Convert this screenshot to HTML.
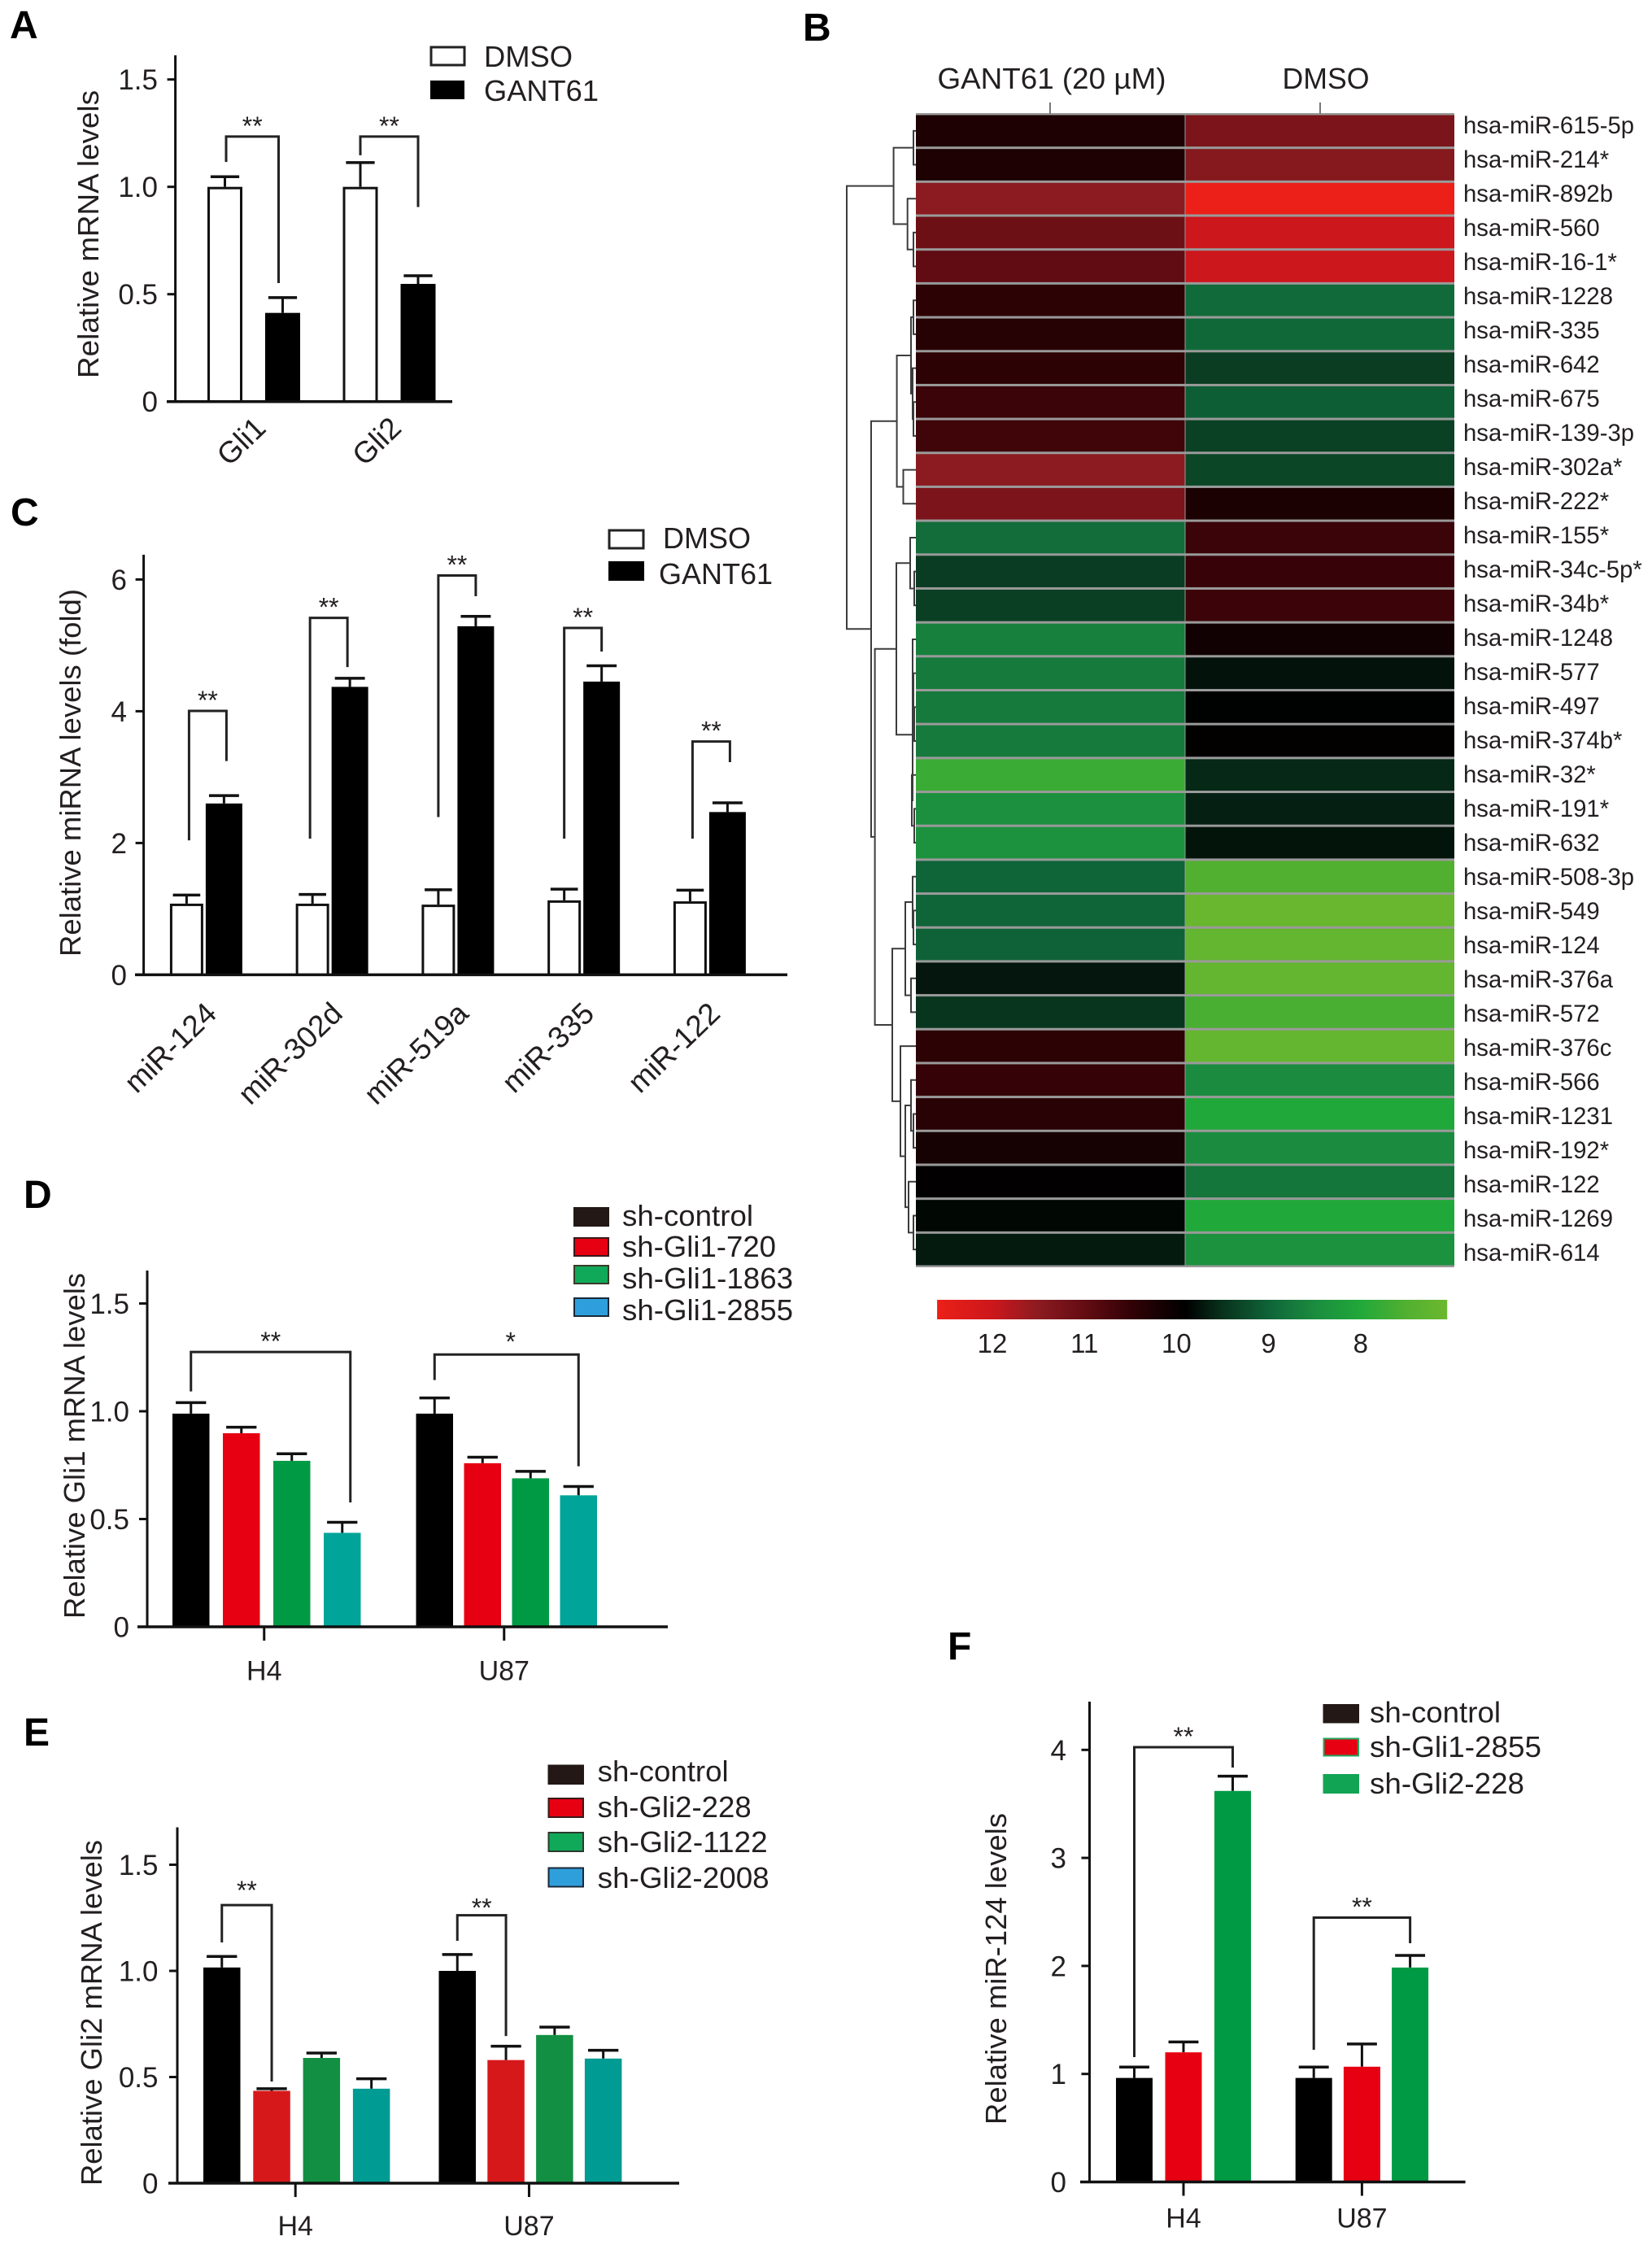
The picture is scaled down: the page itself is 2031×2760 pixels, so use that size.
<!DOCTYPE html>
<html lang="en">
<head>
<meta charset="utf-8">
<title>GANT61 and Gli knockdown: mRNA and miRNA levels</title>
<style>
html,body{margin:0;padding:0;background:#fff;}
svg{display:block;}
text{font-family:"Liberation Sans",sans-serif;fill:#231f20;}
.letter{font-size:48px;font-weight:bold;fill:#000;}
.legend-text{font-size:36px;}
.title{font-size:36px;}
</style>
</head>
<body>
<svg id="figure" xmlns="http://www.w3.org/2000/svg" width="2031" height="2760" viewBox="0 0 2031 2760">
  <rect x="0" y="0" width="2031" height="2760" fill="#ffffff"/>
  <defs id="defs"></defs>

  <text class="letter" x="12" y="47">A</text>
  <text class="letter" x="987" y="50">B</text>
  <text class="letter" x="13" y="646">C</text>
  <text class="letter" x="29" y="1485">D</text>
  <text class="letter" x="29" y="2146">E</text>
  <text class="letter" x="1165" y="2040">F</text>

  <text class="title" text-anchor="middle" textLength="354" lengthAdjust="spacingAndGlyphs" transform="translate(121 288) rotate(-90)">Relative mRNA levels</text>
  <text class="title" text-anchor="middle" textLength="452" lengthAdjust="spacingAndGlyphs" transform="translate(99 950) rotate(-90)">Relative miRNA levels (fold)</text>
  <text class="title" text-anchor="middle" textLength="425" lengthAdjust="spacingAndGlyphs" transform="translate(104 1777.5) rotate(-90)">Relative Gli1 mRNA levels</text>
  <text class="title" text-anchor="middle" textLength="425" lengthAdjust="spacingAndGlyphs" transform="translate(125 2474.5) rotate(-90)">Relative Gli2 mRNA levels</text>
  <text class="title" text-anchor="middle" textLength="383" lengthAdjust="spacingAndGlyphs" transform="translate(1237 2420.5) rotate(-90)">Relative miR-124 levels</text>

  <g>
    <rect x="530" y="58" width="41" height="22" fill="#fff" stroke="#222" stroke-width="3"/>
    <text class="legend-text" x="595" y="82" textLength="109" lengthAdjust="spacingAndGlyphs">DMSO</text>
    <rect x="529" y="99" width="42" height="23" fill="#000"/>
    <text class="legend-text" x="595" y="124" textLength="141" lengthAdjust="spacingAndGlyphs">GANT61</text>
  </g>
  <g>
    <rect x="749" y="652" width="42" height="22" fill="#fff" stroke="#222" stroke-width="3"/>
    <text class="legend-text" x="815" y="674">DMSO</text>
    <rect x="748" y="690" width="44" height="24" fill="#000"/>
    <text class="legend-text" x="810" y="718">GANT61</text>
  </g>
  <g>
    <rect x="705" y="1484" width="44" height="24" fill="#231815"/>
    <text class="legend-text" x="765" y="1507" textLength="161" lengthAdjust="spacingAndGlyphs">sh-control</text>
    <rect x="706" y="1522" width="42" height="22" fill="#e60012" stroke="#3a1a1a" stroke-width="2"/>
    <text class="legend-text" x="765" y="1545" textLength="189" lengthAdjust="spacingAndGlyphs">sh-Gli1-720</text>
    <rect x="706" y="1556" width="42" height="22" fill="#10a95a" stroke="#3a3a2a" stroke-width="2"/>
    <text class="legend-text" x="765" y="1584" textLength="210" lengthAdjust="spacingAndGlyphs">sh-Gli1-1863</text>
    <rect x="706" y="1596" width="42" height="22" fill="#2f9fdc" stroke="#1a2a3a" stroke-width="2"/>
    <text class="legend-text" x="765" y="1623" textLength="210" lengthAdjust="spacingAndGlyphs">sh-Gli1-2855</text>
  </g>
  <g>
    <rect x="673.5" y="2169.5" width="44.5" height="24.5" fill="#231815"/>
    <text class="legend-text" x="734.7" y="2190" textLength="161" lengthAdjust="spacingAndGlyphs">sh-control</text>
    <rect x="674.5" y="2211" width="42.5" height="23" fill="#e60012" stroke="#3a1a1a" stroke-width="2"/>
    <text class="legend-text" x="734.7" y="2234" textLength="189" lengthAdjust="spacingAndGlyphs">sh-Gli2-228</text>
    <rect x="674.5" y="2253" width="42.5" height="23" fill="#10a95a" stroke="#2a3a2a" stroke-width="2"/>
    <text class="legend-text" x="734.7" y="2277" textLength="209" lengthAdjust="spacingAndGlyphs">sh-Gli2-1122</text>
    <rect x="674.5" y="2296.5" width="42.5" height="23" fill="#2f9fdc" stroke="#1a2a3a" stroke-width="2"/>
    <text class="legend-text" x="734.7" y="2321" textLength="211" lengthAdjust="spacingAndGlyphs">sh-Gli2-2008</text>
  </g>
  <g>
    <rect x="1626.5" y="2095" width="44.5" height="23.5" fill="#231815"/>
    <text class="legend-text" x="1684" y="2117.5" textLength="161" lengthAdjust="spacingAndGlyphs">sh-control</text>
    <rect x="1627.5" y="2137.5" width="42.5" height="21" fill="#e60012" stroke="#22a860" stroke-width="2"/>
    <text class="legend-text" x="1684" y="2160" textLength="211" lengthAdjust="spacingAndGlyphs">sh-Gli1-2855</text>
    <rect x="1626.5" y="2181" width="44.5" height="24" fill="#12a455"/>
    <text class="legend-text" x="1684" y="2205" textLength="190" lengthAdjust="spacingAndGlyphs">sh-Gli2-228</text>
  </g>

  <g>
    <text class="title" x="1293" y="109" text-anchor="middle" textLength="281" lengthAdjust="spacingAndGlyphs">GANT61 (20 µM)</text>
    <text class="title" x="1630" y="109" text-anchor="middle" textLength="107" lengthAdjust="spacingAndGlyphs">DMSO</text>
  </g>
  <g id="charts"></g>
</svg>

<script>
/* Panel A */
const aCategories = ['Gli1', 'Gli2'];
const aDmso = [1.0, 1.0];
const aDmsoErr = [0.047, 0.113];
const aGant61 = [0.413, 0.548];
const aGant61Err = [0.071, 0.038];
const aTicks = [0, 0.5, 1, 1.5];
const aTickLabels = ['0', '0.5', '1.0', '1.5'];

/* Panel C */
const cCategories = ['miR-124', 'miR-302d', 'miR-519a', 'miR-335', 'miR-122'];
const cDmso = [1.08, 1.08, 1.065, 1.13, 1.115];
const cDmsoErr = [0.13, 0.14, 0.225, 0.17, 0.17];
const cGant61 = [2.6, 4.37, 5.29, 4.45, 2.47];
const cGant61Err = [0.12, 0.13, 0.15, 0.24, 0.14];
const cTicks = [0, 2, 4, 6];
const cTickLabels = ['0', '2', '4', '6'];

/* Panel D */
const dCategories = ['H4', 'U87'];
const dControl = [0.989, 0.989];
const dControlErr = [0.051, 0.073];
const dGli1720 = [0.898, 0.759];
const dGli1720Err = [0.028, 0.028];
const dGli11863 = [0.77, 0.689];
const dGli11863Err = [0.033, 0.032];
const dGli12855 = [0.436, 0.61];
const dGli12855Err = [0.049, 0.041];
const dTicks = [0, 0.5, 1, 1.5];
const dTickLabels = ['0', '0.5', '1.0', '1.5'];

/* Panel E */
const eCategories = ['H4', 'U87'];
const eControl = [1.016, 1.0];
const eControlErr = [0.052, 0.077];
const eGli2228 = [0.435, 0.58];
const eGli2228Err = [0.01, 0.065];
const eGli21122 = [0.59, 0.698];
const eGli21122Err = [0.023, 0.037];
const eGli22008 = [0.445, 0.587];
const eGli22008Err = [0.047, 0.039];
const eTicks = [0, 0.5, 1, 1.5];
const eTickLabels = ['0', '0.5', '1.0', '1.5'];

/* Panel F */
const fCategories = ['H4', 'U87'];
const fControl = [0.963, 0.963];
const fControlErr = [0.101, 0.101];
const fGli12855 = [1.2, 1.067];
const fGli12855Err = [0.096, 0.21];
const fGli2228 = [3.62, 1.985];
const fGli2228Err = [0.137, 0.112];
const fTicks = [0, 1, 2, 3, 4];
const fTickLabels = ['0', '1', '2', '3', '4'];

/* Panel B heatmap */
const heatRows = ['hsa-miR-615-5p','hsa-miR-214*','hsa-miR-892b','hsa-miR-560','hsa-miR-16-1*','hsa-miR-1228','hsa-miR-335','hsa-miR-642','hsa-miR-675','hsa-miR-139-3p','hsa-miR-302a*','hsa-miR-222*','hsa-miR-155*','hsa-miR-34c-5p*','hsa-miR-34b*','hsa-miR-1248','hsa-miR-577','hsa-miR-497','hsa-miR-374b*','hsa-miR-32*','hsa-miR-191*','hsa-miR-632','hsa-miR-508-3p','hsa-miR-549','hsa-miR-124','hsa-miR-376a','hsa-miR-572','hsa-miR-376c','hsa-miR-566','hsa-miR-1231','hsa-miR-192*','hsa-miR-122','hsa-miR-1269','hsa-miR-614'];
const heatGant61 = [10.25,10.25,11.5,11.12,10.97,10.43,10.37,10.43,10.58,10.63,11.5,11.31,8.89,9.4,9.37,8.65,8.72,8.72,8.72,7.75,8.42,8.4,9.0,9.0,9.02,9.72,9.47,10.43,10.53,10.39,10.16,9.92,9.84,9.69];
const heatDmso = [11.3,11.42,12.6,12.0,12.0,8.92,8.95,9.39,9.06,9.36,9.3,10.23,10.58,10.56,10.6,10.12,9.76,9.88,9.94,9.58,9.64,9.74,7.5,7.13,7.2,7.2,7.59,7.2,8.5,8.0,8.5,8.78,8.0,8.4];
const heatColumns = ['GANT61', 'DMSO'];
const colorbarTicks = [12, 11, 10, 9, 8];
const colorbarTickLabels = ['12', '11', '10', '9', '8'];
const colorStopValues = [12.6, 12, 11.5, 11, 10.5, 9.9, 9.5, 9, 8.5, 8, 7.5, 7.06];
const colorStopRgb = [[236,32,24],[204,23,28],[139,27,32],[100,12,19],[50,2,6],[0,0,0],[8,50,28],[15,100,56],[27,140,63],[33,168,58],[82,176,48],[108,184,46]];
/* each node: [merge distance, left child, right child]; a bare number is a row index */
const dendrogramTree = [85,
  [27.4, [3, 0, 1], [10.3, 2, [3, 3, 4]]],
  [55,
    [23.4, [6, [3, 5, 6], [4, 7, [3, 8, 9]]], [15.5, 10, 11]],
    [50.4,
      [24, [7, 12, [2, 13, 14]], [4, [4, 15, [3, 16, [2, 17, 18]]], [5, 19, [2, 20, 21]]]],
      [29,
        [13, [4, 22, [3, 23, 24]], [6, 25, 26]],
        [19, 27, [13, [6, 28, [3, 29, 30]], [9, 31, [3, 32, 33]]]]
      ]
    ]
  ]
];

const SVG_NS = 'http://www.w3.org/2000/svg';
const layer = document.getElementById('charts');
const INK = '#111';

function mk(parent, tag, attrs, text) {
  const el = document.createElementNS(SVG_NS, tag);
  for (const k in attrs) el.setAttribute(k, attrs[k]);
  if (text !== undefined) el.textContent = text;
  parent.appendChild(el);
  return el;
}
function line(parent, x1, y1, x2, y2, width, color) {
  return mk(parent, 'line', {x1: x1, y1: y1, x2: x2, y2: y2, stroke: color || INK, 'stroke-width': width});
}

function drawBarChart(c) {
  const g = mk(layer, 'g', {});
  
  
  const yScale = v => c.y0 - v * c.unit;
  const barLeft = (cat, s) => c.groupStart + cat * c.groupStep + s * c.barSteps[cat];
  const seriesWidth = s => c.series[s].width || c.barWidth;
  const barCenter = (cat, s) => barLeft(cat, s) + seriesWidth(s) / 2;
  const groupCenter = cat => (barLeft(cat, 0) + barLeft(cat, c.series.length - 1) + seriesWidth(c.series.length - 1)) / 2;

  c.series.forEach((s, si) => {
    s.values.forEach((v, ci) => {
      const w = seriesWidth(si);
      const x = barLeft(ci, si);
      const top = yScale(v);
      const errTop = yScale(v + s.errors[ci]);
      const cx = x + w / 2;
      const stem = line(g, cx, top, cx, errTop, 3);
      
      
      const cap = line(g, cx - w * 0.41, errTop, cx + w * 0.41, errTop, 3.5);
      
      
      let bar;
      if (s.outline) {
        bar = mk(g, 'rect', {x: x + 1.5, y: top + 1.5, width: w - 3, height: c.y0 - top - 1.5, fill: '#fff', stroke: INK, 'stroke-width': 3});
      } else {
        bar = mk(g, 'rect', {x: x, y: top, width: w, height: c.y0 - top, fill: s.fill});
      }
      
      
    });
  });

  const yAxis = line(g, c.axisX, c.axisTop, c.axisX, c.y0 + 1.5, 3);
  
  
  const xAxis = line(g, c.axisLeft, c.y0, c.axisRight, c.y0, 3.5);
  
  

  c.ticks.forEach((t, i) => {
    const tick = line(g, c.axisX - 10, yScale(t), c.axisX, yScale(t), 3);
    
    
    const label = mk(g, 'text', {x: c.labelRight, y: yScale(t) + 12.5, 'text-anchor': 'end', 'font-size': 35}, c.tickLabels[i]);
    
    
  });

  c.categories.forEach((name, i) => {
    const gc = groupCenter(i);
    if (c.rotated) {
      const label = mk(g, 'text', {'text-anchor': 'end', 'font-size': 37, transform: 'translate(' + (gc + c.rotated.dx) + ' ' + (c.y0 + c.rotated.dy) + ') rotate(' + c.rotated.angle + ')'}, name);
      
      
    } else {
      const tx = gc + (c.catDx || 0);
      const tick = line(g, tx, c.y0, tx, c.y0 + 17, 3);
      
      
      const label = mk(g, 'text', {x: tx, y: c.y0 + c.catLabelDy + 12.5, 'text-anchor': 'middle', 'font-size': 34}, name);
      
      
    }
  });

  c.brackets.forEach(b => {
    const x1 = barCenter(b.group, b.from) + (b.nudgeA || 0);
    const x2 = barCenter(b.group, b.to) + (b.nudgeB || 0);
    const path = mk(g, 'path', {d: 'M' + x1 + ' ' + yScale(b.endA) + 'V' + yScale(b.top) + 'H' + x2 + 'V' + yScale(b.endB), fill: 'none', stroke: '#222', 'stroke-width': 3});
    
    
    const star = mk(g, 'text', {x: (x1 + x2) / 2 + (b.starDx || 0), y: yScale(b.top) - (b.starDy || 20) + 18, 'text-anchor': 'middle', 'font-size': 32}, b.label);
    
    
  });
}

drawBarChart({
  id: 'a', categories: aCategories, ticks: aTicks, tickLabels: aTickLabels,
  y0: 493.7, unit: 264, axisX: 215.6, axisTop: 68, axisLeft: 205, axisRight: 556, labelRight: 194,
  groupStart: 255, groupStep: 166.5, barSteps: [71, 71], barWidth: 43,
  rotated: {dx: 17, dy: 35, angle: -44},
  series: [
    {name: 'dmso', values: aDmso, errors: aDmsoErr, outline: true},
    {name: 'gant61', values: aGant61, errors: aGant61Err, fill: '#000'}
  ],
  brackets: [
    {group: 0, from: 0, to: 1, top: 1.234, endA: 1.116, endB: 0.552, nudgeA: 1.5, nudgeB: -5, label: '**'},
    {group: 1, from: 0, to: 1, top: 1.234, endA: 1.147, endB: 0.906, label: '**'}
  ]
});

drawBarChart({
  id: 'c', categories: cCategories, ticks: cTicks, tickLabels: cTickLabels,
  y0: 1198.4, unit: 81, axisX: 176.6, axisTop: 682, axisLeft: 166, axisRight: 968, labelRight: 156,
  groupStart: 208.9, groupStep: 154.75, barSteps: [44, 44, 44, 44, 44], barWidth: 41,
  rotated: {dx: 15, dy: 50, angle: -44},
  series: [
    {name: 'dmso', values: cDmso, errors: cDmsoErr, outline: true, width: 41},
    {name: 'gant61', values: cGant61, errors: cGant61Err, fill: '#000', width: 45}
  ],
  brackets: [
    {group: 0, from: 0, to: 1, top: 4.005, endA: 2.04, endB: 3.244, nudgeA: 3, nudgeB: 3, label: '**'},
    {group: 1, from: 0, to: 1, top: 5.417, endA: 2.067, endB: 4.67, nudgeA: -3, nudgeB: -3, label: '**'},
    {group: 2, from: 0, to: 1, top: 6.06, endA: 2.394, endB: 5.746, label: '**'},
    {group: 3, from: 0, to: 1, top: 5.264, endA: 2.067, endB: 4.906, label: '**'},
    {group: 4, from: 0, to: 1, top: 3.54, endA: 2.067, endB: 3.227, nudgeA: 3, nudgeB: 3, label: '**'}
  ]
});

drawBarChart({
  id: 'd', categories: dCategories, ticks: dTicks, tickLabels: dTickLabels,
  y0: 2000, unit: 265, axisX: 181, axisTop: 1562, axisLeft: 169, axisRight: 821, labelRight: 159,
  groupStart: 212, groupStep: 299.5, barSteps: [62, 59], barWidth: 45.5, catLabelDy: 53, catDx: -3,
  series: [
    {name: 'sh-control', values: dControl, errors: dControlErr, fill: '#000'},
    {name: 'sh-gli1-720', values: dGli1720, errors: dGli1720Err, fill: '#e60012'},
    {name: 'sh-gli1-1863', values: dGli11863, errors: dGli11863Err, fill: '#009a44'},
    {name: 'sh-gli1-2855', values: dGli12855, errors: dGli12855Err, fill: '#00a499'}
  ],
  brackets: [
    {group: 0, from: 0, to: 3, top: 1.275, endA: 1.092, endB: 0.577, nudgeB: 10, label: '**'},
    {group: 1, from: 0, to: 3, top: 1.263, endA: 1.145, endB: 0.745, starDx: 5, starDy: 23, label: '*'}
  ]
});

drawBarChart({
  id: 'e', categories: eCategories, ticks: eTicks, tickLabels: eTickLabels,
  y0: 2684, unit: 261, axisX: 218, axisTop: 2246.5, axisLeft: 207, axisRight: 835, labelRight: 194.5,
  groupStart: 250, groupStep: 289.5, barSteps: [61.3, 59.8], barWidth: 45.5, catLabelDy: 51.5, catDx: -1.5,
  series: [
    {name: 'sh-control', values: eControl, errors: eControlErr, fill: '#000'},
    {name: 'sh-gli2-228', values: eGli2228, errors: eGli2228Err, fill: '#d7181b'},
    {name: 'sh-gli2-1122', values: eGli21122, errors: eGli21122Err, fill: '#128f42'},
    {name: 'sh-gli2-2008', values: eGli22008, errors: eGli22008Err, fill: '#009b93'}
  ],
  brackets: [
    {group: 0, from: 0, to: 1, top: 1.31, endA: 1.134, endB: 0.479, starDy: 25, label: '**'},
    {group: 1, from: 0, to: 1, top: 1.262, endA: 1.142, endB: 0.693, starDy: 16, label: '**'}
  ]
});

drawBarChart({
  id: 'f', categories: fCategories, ticks: fTicks, tickLabels: fTickLabels,
  y0: 2682.5, unit: 132.8, axisX: 1339.5, axisTop: 2092, axisLeft: 1328, axisRight: 1801.6, labelRight: 1311,
  groupStart: 1372, groupStep: 220.7, barSteps: [60.5, 59.2], barWidth: 45, catLabelDy: 43.5,
  series: [
    {name: 'sh-control', values: fControl, errors: fControlErr, fill: '#000'},
    {name: 'sh-gli1-2855', values: fGli12855, errors: fGli12855Err, fill: '#e60012'},
    {name: 'sh-gli2-228', values: fGli2228, errors: fGli2228Err, fill: '#009a44'}
  ],
  brackets: [
    {group: 0, from: 0, to: 2, top: 4.025, endA: 1.156, endB: 3.837, label: '**'},
    {group: 1, from: 0, to: 2, top: 2.447, endA: 1.224, endB: 2.21, label: '**'}
  ]
});

/* Heatmap */
function heatColor(v) {
  const vals = colorStopValues;
  const rgb = colorStopRgb;
  if (v >= vals[0]) return 'rgb(' + rgb[0].join(',') + ')';
  const last = vals.length - 1;
  if (v <= vals[last]) return 'rgb(' + rgb[last].join(',') + ')';
  for (let i = 0; i < last; i++) {
    if (v <= vals[i] && v >= vals[i + 1]) {
      const t = (vals[i] - v) / (vals[i] - vals[i + 1]);
      const c = rgb[i].map((a, k) => Math.round(a + (rgb[i + 1][k] - a) * t));
      return 'rgb(' + c.join(',') + ')';
    }
  }
  return '#000';
}

(function drawHeatmap() {
  const left = 1126, mid = 1457, right = 1788, top = 140, rowH = 1417 / heatRows.length;
  const g = mk(layer, 'g', {});
  
  

  const backdrop = mk(g, 'rect', {x: left, y: top - 1, width: right - left, height: rowH * heatRows.length + 2, fill: '#9a9a9a'});
  
  

  const columnTickG = line(g, (left + mid) / 2 - 0.5, 126, (left + mid) / 2 - 0.5, 140, 2, '#777');
  
  
  const columnTickD = line(g, (mid + right) / 2 + 0.5, 126, (mid + right) / 2 + 0.5, 140, 2, '#777');
  
  

  const rowY = i => top + i * rowH;
  [heatGant61, heatDmso].forEach((column, ci) => {
    column.forEach((v, ri) => {
      const x = ci === 0 ? left : mid;
      const w = ci === 0 ? mid - left : right - mid;
      const cell = mk(g, 'rect', {x: x + (ci === 0 ? 0 : 0.5), y: rowY(ri) + 1.5, width: w - 0.5, height: rowH - 3, fill: heatColor(v)});
      
      
    });
  });

  heatRows.forEach((name, i) => {
    const label = mk(g, 'text', {x: 1799, y: 154 + i * 42 + 10, 'font-size': 29.3}, name);
    
    
  });

  const dendro = mk(g, 'g', {fill: 'none', stroke: '#3c3c3c', 'stroke-width': 2});
  
  
  function branch(node) {
    if (typeof node === 'number') return {x: left, y: rowY(node) + rowH / 2};
    const a = branch(node[1]);
    const b = branch(node[2]);
    const x = left - node[0];
    const p = mk(dendro, 'path', {d: 'M' + a.x + ' ' + a.y + 'H' + x + 'V' + b.y + 'H' + b.x});
    
    
    return {x: x, y: (a.y + b.y) / 2};
  }
  branch(dendrogramTree);

  /* colour key */
  const barX = v => 1220 + (12 - v) * 113.2;
  const defs = document.getElementById('defs');
  const grad = mk(defs, 'linearGradient', {id: 'color-key-gradient', x1: 0, x2: 1, y1: 0, y2: 0});
  const vHi = colorStopValues[0], vLo = colorStopValues[colorStopValues.length - 1];
  colorStopValues.forEach(v => {
    mk(grad, 'stop', {offset: (vHi - v) / (vHi - vLo), 'stop-color': heatColor(v)});
  });
  const key = mk(g, 'rect', {x: barX(vHi), y: 1598, width: barX(vLo) - barX(vHi), height: 24, fill: 'url(#color-key-gradient)'});
  
  
  colorbarTicks.forEach((v, i) => {
    const label = mk(g, 'text', {x: barX(v), y: 1663, 'text-anchor': 'middle', 'font-size': 33}, colorbarTickLabels[i]);
    
    
  });
})();
</script>
</body>
</html>
